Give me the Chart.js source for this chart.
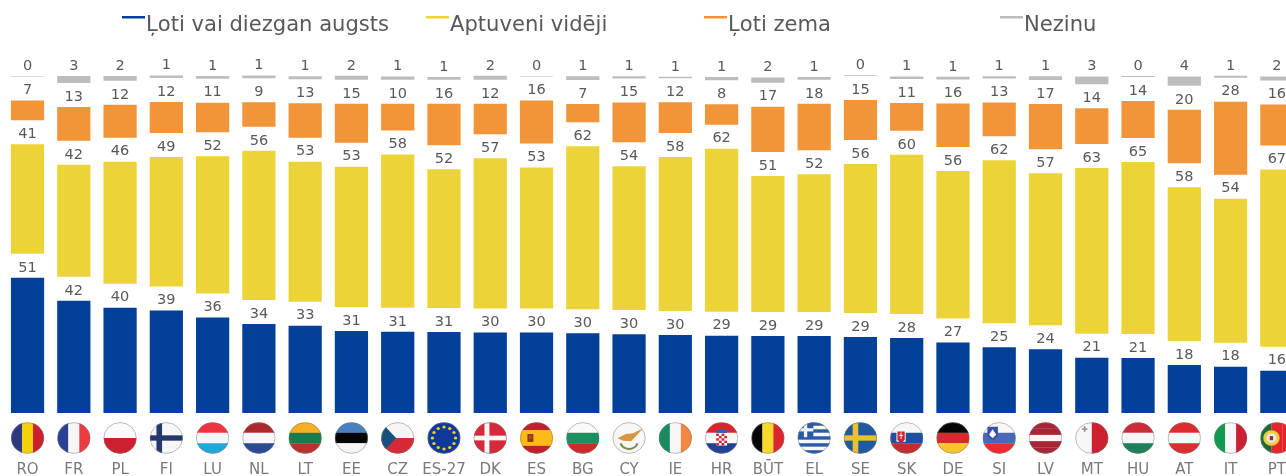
<!DOCTYPE html>
<html lang="lv">
<head>
<meta charset="UTF-8">
<title></title>
<style>
  html, body { margin: 0; padding: 0; background: #fff; overflow: hidden; }
  #wrap { width: 1286px; height: 476px; overflow: hidden; }
</style>
</head>
<body>
<div id="wrap"><canvas id="myChart" width="1300" height="476"></canvas></div>
<script src="https://cdn.jsdelivr.net/npm/chart.js"></script>
<script>
const categories = ['RO','FR','PL','FI','LU','NL','LT','EE','CZ','ES-27','DK','ES','BG','CY','IE','HR','BŪT','EL','SE','SK','DE','SI','LV','MT','HU','AT','IT','PT'];
// printed labels are whole numbers, decimals estimated from the bar heights
const high = [51.1,42.4,39.8,38.7,36.1,33.6,33.0,31.0,30.7,30.6,30.4,30.4,30.1,29.8,29.5,29.2,29.1,29.1,28.7,28.3,26.6,24.8,24.1,20.9,20.8,18.1,17.5,16.0];
const medium = [41.4,42.3,46.1,49.0,51.8,56.4,52.9,53.0,57.9,52.4,56.8,53.3,61.6,54.4,58.2,61.6,51.4,52.0,56.3,60.2,55.8,61.6,57.4,62.6,65.0,58.1,54.4,66.9];
const low = [7.4,12.8,12.4,11.7,11.2,9.3,13.0,14.7,10.1,15.7,11.5,16.2,6.9,15.0,11.6,7.7,17.1,17.6,15.1,10.5,16.4,12.8,17.1,13.5,13.9,20.2,27.6,15.5];
const unknown = [0.2,2.6,1.8,0.9,1.0,1.0,1.1,1.5,1.2,1.0,1.5,0.2,1.4,0.8,0.5,1.2,2.0,1.0,0.3,0.9,1.0,0.8,1.4,2.9,0.4,3.5,0.7,1.5];
const seriesNames = ['Ļoti vai diezgan augsts','Aptuveni vidēji','Ļoti zema','Nezinu'];
const seriesColors = ['#004098','#ecd438','#f29538','#bdbdbd'];
const legendLeft = [122,426,704,1000];
const spacer = 9.07; // white room for the value label between two segments

const FONT = '"DejaVu Sans", Verdana, sans-serif';
const TEXT = '#595959';

function bar(label, data, color) {
  return { label, data, backgroundColor: color, borderWidth: 0, isSeries: true };
}
function gap() {
  return { label: '', data: categories.map(() => spacer), backgroundColor: 'transparent', borderWidth: 0 };
}

/* flags: stripes first, then whatever sits on top. drawn in a -1..1 box */
function rect(c, col, x, y, w, h) { c.fillStyle = col; c.fillRect(x, y, w, h); }
function cross(c, col, x, t) { rect(c, col, x - t/2, -1, t, 2); rect(c, col, -1, -t/2, 2, t); }
function shape(c, col, pts) {
  c.fillStyle = col; c.beginPath();
  pts.forEach((p, i) => i ? c.lineTo(p[0], p[1]) : c.moveTo(p[0], p[1]));
  c.closePath(); c.fill();
}
function dot(c, col, x, y, r) { c.fillStyle = col; c.beginPath(); c.arc(x, y, r, 0, Math.PI*2); c.fill(); }

const flags = {
  RO: ['v',['#2b3a80','#f5d10d','#cc2030']],
  FR: ['v',['#2b3f94','#f7f7f7','#ee3b43']],
  PL: ['h',['#fafafa','#cc2030']],
  FI: ['h',['#f7f7f7'], c => cross(c,'#25386e',-0.43,0.34)],
  LU: ['h',['#ee3440','#f7f7f7','#22a8dc']],
  NL: ['h',['#ab2a30','#f7f7f7','#2a4a94']],
  LT: ['h',['#f4b020','#1a7a50','#bc3030']],
  EE: ['h',['#4a80c0','#050505','#f5f5f5']],
  CZ: ['h',['#f5f5f5','#d42a38'], c => shape(c,'#15507e',[[-1,-1],[-0.1,0],[-1,1]])],
  'ES-27': ['h',['#0f3a9c'], c => {
    for (let i = 0; i < 12; i++) {
      const a = i * Math.PI / 6;
      dot(c,'#f5d020',Math.cos(a)*0.7,Math.sin(a)*0.7,0.1);
    }
  }],
  DK: ['h',['#d42a3c'], c => cross(c,'#f7f7f7',-0.2,0.3)],
  ES: ['h',['#c02028','#fdbb18','#fdbb18','#c02028'], c => { rect(c,'#8a3a20',-0.55,-0.25,0.36,0.5); dot(c,'#c04030',-0.37,-0.05,0.12); }],
  BG: ['h',['#fafafa','#1c9060','#cc2c30']],
  CY: ['h',['#f7f7f5'], c => {
    shape(c,'#d99540',[[-0.7,0.02],[-0.2,-0.25],[0.25,-0.3],[0.85,-0.62],[0.4,-0.1],[0.12,0.2],[-0.35,0.18]]);
    c.strokeStyle = '#7a8a50'; c.lineWidth = 0.12;
    c.beginPath(); c.arc(0,0.15,0.55,0.35,Math.PI-0.35); c.stroke();
  }],
  IE: ['v',['#1a8a60','#f7f7f7','#f58840']],
  HR: ['h',['#e0202c','#fafafa','#22409a'], c => {
    rect(c,'#fafafa',-0.33,-0.38,0.66,0.86);
    for (let a = 0; a < 5; a++) for (let b = 0; b < 4; b++) {
      if ((a+b) % 2 === 0) rect(c,'#d8202c',-0.33+b*0.165,-0.28+a*0.15,0.165,0.15);
    }
    rect(c,'#3a60a8',-0.33,-0.52,0.66,0.2);
  }],
  'BŪT': ['v',['#050505','#fbd928','#dd2530']],
  EL: ['h',['#2a5ba8','#f7f7f7','#2a5ba8','#f7f7f7','#2a5ba8','#f7f7f7','#2a5ba8','#f7f7f7','#2a5ba8'], c => {
    rect(c,'#2a5ba8',-1,-1,0.95,0.95);
    rect(c,'#f7f7f7',-0.62,-1,0.2,0.95);
    rect(c,'#f7f7f7',-1,-0.62,0.95,0.2);
  }],
  SE: ['h',['#1d5a9e'], c => cross(c,'#ecc030',-0.3,0.34)],
  SK: ['h',['#f7f7f7','#1d50a0','#c42c30'], c => {
    rect(c,'#f7f7f7',-0.62,-0.48,0.56,0.72);
    shape(c,'#d42030',[[-0.56,-0.42],[-0.12,-0.42],[-0.12,0.1],[-0.34,0.4],[-0.56,0.1]]);
    rect(c,'#f7f7f7',-0.37,-0.35,0.06,0.42); rect(c,'#f7f7f7',-0.46,-0.2,0.24,0.06);
  }],
  DE: ['h',['#050505','#d42a30','#fbc52c']],
  SI: ['h',['#f7f7f7','#4a68b4','#ee2c30'], c => {
    shape(c,'#3a50a8',[[-0.72,-0.72],[-0.08,-0.72],[-0.08,-0.15],[-0.4,0.18],[-0.72,-0.15]]);
    shape(c,'#f7f7f7',[[-0.62,-0.2],[-0.4,-0.55],[-0.18,-0.2],[-0.4,0.02]]);
  }],
  LV: ['h',['#a82535','#a82535','#f7f7f7','#a82535','#a82535']],
  MT: ['v',['#f7f7f7','#cc2030'], c => { rect(c,'#a09090',-0.6,-0.62,0.34,0.1); rect(c,'#a09090',-0.48,-0.75,0.1,0.36); }],
  HU: ['h',['#cc2c38','#f7f7f7','#1c8058']],
  AT: ['h',['#dc2c30','#f7f7f7','#dc2c30']],
  IT: ['v',['#109a50','#f7f7f7','#cc2030']],
  PT: ['v',['#1a6a38','#e4262c','#e4262c'], c => {
    dot(c,'#e8d040',-0.33,0,0.5); dot(c,'#e8e8e8',-0.33,0,0.3); rect(c,'#b02030',-0.43,-0.12,0.2,0.26);
  }]
};

// the flags in the picture are a little wider than tall
function drawFlag(c, code, x, y, rx, ry) {
  const f = flags[code];
  c.save();
  c.translate(x, y);
  c.save();
  c.beginPath(); c.ellipse(0, 0, rx, ry, 0, 0, Math.PI*2); c.clip();
  c.scale(rx, ry);
  const n = f[1].length;
  f[1].forEach((col, i) => {
    if (f[0] === 'v') rect(c, col, -1 + 2*i/n, -1, 2/n + 0.01, 2);
    else rect(c, col, -1, -1 + 2*i/n, 2, 2/n + 0.01);
  });
  if (f[2]) f[2](c);
  c.restore();
  c.beginPath(); c.ellipse(0, 0, rx - 0.3, ry - 0.3, 0, 0, Math.PI*2);
  c.strokeStyle = 'rgba(120,120,120,0.6)'; c.lineWidth = 0.8; c.stroke();
  c.restore();
}

const extras = {
  id: 'extras',
  afterDatasetsDraw(chart) {
    const c = chart.ctx;
    c.save();
    // value labels above each segment
    c.font = '14.5px ' + FONT; c.fillStyle = TEXT;
    c.textAlign = 'center'; c.textBaseline = 'middle';
    chart.data.datasets.forEach((ds, i) => {
      if (!ds.isSeries) return;
      chart.getDatasetMeta(i).data.forEach((el, j) => {
        c.fillText(String(Math.round(ds.data[j])), el.x, el.y - 10);
      });
    });
    // flags
    chart.getDatasetMeta(0).data.forEach((el, j) => drawFlag(c, categories[j], el.x, 438, 16.5, 15.7));
    // legend, the columns are not evenly spaced so the stock one does not fit
    c.textAlign = 'left'; c.textBaseline = 'alphabetic';
    c.font = '21.1px ' + FONT;
    seriesNames.forEach((name, i) => {
      c.fillStyle = seriesColors[i];
      c.fillRect(legendLeft[i], 16, 23, 2.5);
      c.fillStyle = TEXT;
      c.fillText(name, legendLeft[i] + 24, 30.5);
    });
    c.restore();
  }
};

new Chart(document.getElementById('myChart'), {
  type: 'bar',
  data: {
    labels: categories,
    datasets: [
      bar(seriesNames[0], high, seriesColors[0]), gap(),
      bar(seriesNames[1], medium, seriesColors[1]), gap(),
      bar(seriesNames[2], low, seriesColors[2]), gap(),
      bar(seriesNames[3], unknown, seriesColors[3])
    ]
  },
  options: {
    responsive: false,
    animation: false,
    categoryPercentage: 1,
    barPercentage: 0.718,
    layout: { padding: { left: 4.4, top: 16 } },
    plugins: { legend: { display: false }, tooltip: { enabled: false } },
    scales: {
      x: {
        stacked: true,
        // tick padding also widens the side margins, so the room for the flags goes in tickLength
        grid: { color: 'transparent', drawOnChartArea: false, tickLength: 48 },
        border: { display: false },
        afterFit(scale) { scale.height = 63; },
        ticks: {
          autoSkip: false, maxRotation: 0, padding: 0,
          color: '#7a7a7a', font: { family: FONT, size: 15 }
        }
      },
      y: { stacked: true, display: false, min: 0, max: 150 }
    }
  },
  plugins: [extras]
});
</script>
</body>
</html>
